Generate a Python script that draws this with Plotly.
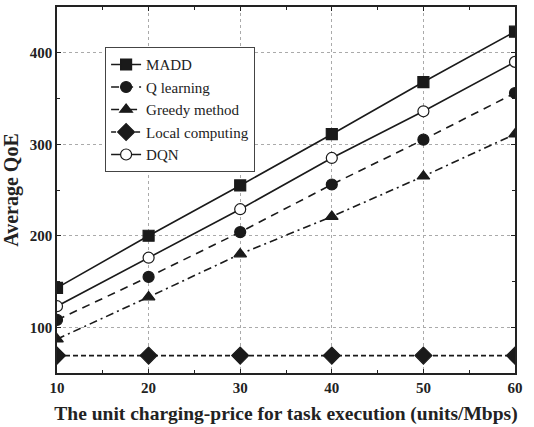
import plotly.graph_objects as go

x = [10, 20, 30, 40, 50, 60]
madd = [143, 200, 255, 311, 368, 423]
qlearn = [108, 155, 204, 256, 305, 356]
greedy = [87, 133, 180, 221, 265, 311]
local = [69, 69, 69, 69, 69, 69]
dqn = [123, 176, 229, 285, 336, 390]

series = [
    ("MADD", madd, "solid", "square", "#1a1a1a"),
    ("Q learning", qlearn, "8px,6px", "circle", "#1a1a1a"),
    ("Greedy method", greedy, "8px,4px,2px,4px", "triangle-up", "#1a1a1a"),
    ("Local computing", local, "5px,3px", "diamond", "#1a1a1a"),
    ("DQN", dqn, "solid", "circle", "white"),
]

SERIF = "Liberation Serif, Times New Roman, serif"

fig = go.Figure()
for name, y, dash, sym, fill in series:
    fig.add_trace(go.Scatter(
        x=x, y=y, name=name, mode="lines+markers",
        line=dict(color="#1a1a1a", width=1.6, dash=dash),
        marker=dict(symbol=sym, size=11 if sym != "diamond" else 13, color=fill,
                    line=dict(color="#1a1a1a", width=1.2)),
        cliponaxis=True,
    ))

axis_common = dict(
    showline=True, linecolor="#222", linewidth=1.5, mirror="ticks",
    ticks="inside", ticklen=4, tickcolor="#222",
    showgrid=True, gridcolor="#aaa", griddash="dot", gridwidth=1,
    zeroline=False,
    tickfont=dict(family=SERIF, size=15, color="#222", weight="bold"),
)

fig.update_xaxes(
    range=[10, 60], tickvals=[10, 20, 30, 40, 50, 60],
    minor=dict(dtick=5, ticks="inside", ticklen=3, tickcolor="#222", showgrid=False),
    title=dict(text="The unit charging-price for task execution (units/Mbps)",
               font=dict(family=SERIF, size=19.5, color="#222", weight="bold"),
               standoff=12),
    **axis_common,
)
fig.update_yaxes(
    range=[50, 450], tickvals=[100, 200, 300, 400],
    minor=dict(dtick=50, ticks="inside", ticklen=3, tickcolor="#222", showgrid=False),
    title=dict(text="Average QoE",
               font=dict(family=SERIF, size=20, color="#222", weight="bold"),
               standoff=6),
    **axis_common,
)

fig.update_layout(
    width=534, height=427,
    font=dict(family=SERIF, color="#222"),
    margin=dict(l=57, r=19, t=5, b=54),
    plot_bgcolor="white", paper_bgcolor="white",
    legend=dict(
        x=0.105, y=0.89, xanchor="left", yanchor="top",
        bgcolor="white", bordercolor="#444", borderwidth=1,
        font=dict(family=SERIF, size=15, color="#222"),
        tracegroupgap=0, itemwidth=30,
    ),
)

fig.write_html("out.html")
